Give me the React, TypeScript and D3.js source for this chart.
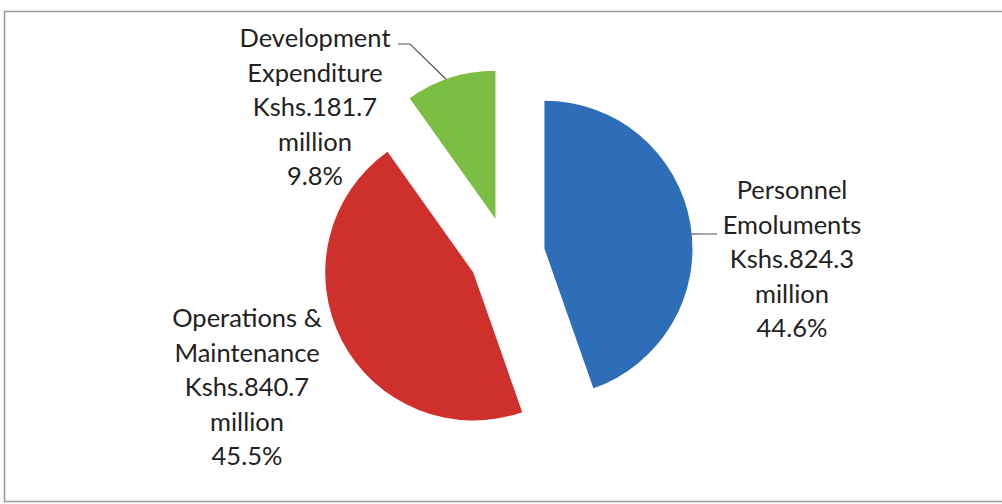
import React from "react";
import * as d3 from "d3";

const categories = ["Personnel Emoluments", "Operations & Maintenance", "Development Expenditure"];
const amounts = [824.3, 840.7, 181.7];
const percents = ["44.6%", "45.5%", "9.8%"];
const labelLines = [
  ["Personnel", "Emoluments", "Kshs.824.3", "million", "44.6%"],
  ["Operations &", "Maintenance", "Kshs.840.7", "million", "45.5%"],
  ["Development", "Expenditure", "Kshs.181.7", "million", "9.8%"],
];
const colors = ["#2E6DB7", "#D0302B", "#7CBD43"];

const W = 1002, H = 504;
const cx = 507, cy = 255, R = 148, explode = 38;
const labelPos = [
  { x: 792, y: 199 },
  { x: 247, y: 327 },
  { x: 315, y: 47 },
];
const lineH = 34.5;

export default function App() {
  const pie = d3.pie<number>().sort(null).value((d) => d).startAngle(0).endAngle(2 * Math.PI);
  const arcs = pie(amounts);
  const arc = d3.arc<d3.PieArcDatum<number>>().innerRadius(0).outerRadius(R);
  const offset = (a: d3.PieArcDatum<number>) => {
    const m = (a.startAngle + a.endAngle) / 2;
    return [Math.sin(m) * explode, -Math.cos(m) * explode];
  };
  const ptOnArc = (i: number, ang: number) => {
    const [ox, oy] = offset(arcs[i]);
    return [cx + ox + Math.sin(ang) * R, cy + oy - Math.cos(ang) * R];
  };
  const gTop = ptOnArc(2, (arcs[2].startAngle * 0.55 + arcs[2].endAngle * 0.45));
  const bRight = ptOnArc(0, Math.PI / 2 - 0.1);
  return (
    <svg width={W} height={H} style={{ position: "absolute", left: 0, top: 0 }}>
      <rect x={0} y={0} width={W} height={H} fill="#fff" />
      <rect x={4.5} y={11.5} width={W + 10} height={490} fill="none" stroke="#9a9a9a" strokeWidth={1.5} />
      <g transform={`translate(${cx},${cy})`}>
        {arcs.map((a, i) => {
          const [ox, oy] = offset(a);
          return (
            <path key={categories[i]} d={arc(a) || ""} transform={`translate(${ox},${oy})`} fill={colors[i]} />
          );
        })}
      </g>
      <polyline points={`398,44 410,44 ${gTop[0]},${gTop[1]}`} fill="none" stroke="#555" strokeWidth={1.2} />
      <polyline points={`717,234 703,234 ${bRight[0]},${bRight[1]}`} fill="none" stroke="#555" strokeWidth={1.2} />
      {labelLines.map((lines, i) => (
        <text key={i} fontFamily="Lato, 'Open Sans', sans-serif" fontSize={25.5} fill="#222" textAnchor="middle">
          {lines.map((l, j) => (
            <tspan key={j} x={labelPos[i].x} y={labelPos[i].y + j * lineH}>{l}</tspan>
          ))}
        </text>
      ))}
    </svg>
  );
}
